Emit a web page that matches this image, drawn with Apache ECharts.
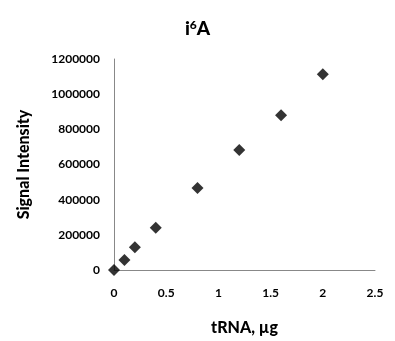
<!DOCTYPE html>
<html>
<head>
<meta charset="utf-8">
<script src="https://cdn.jsdelivr.net/npm/echarts@6/dist/echarts.min.js"></script>
<style>
  html, body { margin: 0; padding: 0; background: #fff; }
  #chart { width: 395px; height: 341px; }
</style>
</head>
<body>
<div id="chart"></div>
<script>
// tRNA amount (µg) vs signal intensity
const tRNA = [0, 0.1, 0.2, 0.4, 0.8, 1.2, 1.6, 2.0]
const signal = [0, 57000, 130000, 240000, 466000, 682000, 880000, 1113000]

const font = 'Lato, "Open Sans", sans-serif'

const chart = echarts.init(document.getElementById('chart'))

chart.setOption({
  animation: false,
  title: {
    text: 'i{sup|6}A',
    left: 'center',
    top: 14,
    textStyle: {
      fontFamily: font,
      fontSize: 19,
      fontWeight: 900,
      color: '#000',
      rich: {
        sup: { fontFamily: font, fontSize: 12, fontWeight: 900, verticalAlign: 'top', padding: [0, 0, 8, 0] },
      },
    },
  },
  grid: {
    left: 114,
    right: 20,
    top: 59,
    bottom: 71,
  },
  xAxis: {
    type: 'value',
    min: 0,
    max: 2.5,
    interval: 0.5,
    name: 'tRNA, µg',
    nameLocation: 'middle',
    nameGap: 50,
    nameTextStyle: { fontFamily: font, fontSize: 16, fontWeight: 900, color: '#000' },
    axisLine: { show: true, lineStyle: { color: '#888', width: 1 } },
    axisTick: { show: false },
    splitLine: { show: false },
    axisLabel: { fontFamily: font, fontSize: 12, fontWeight: 'bold', color: '#000', margin: 17 },
  },
  yAxis: {
    type: 'value',
    min: 0,
    max: 1200000,
    interval: 200000,
    name: 'Signal Intensity',
    nameLocation: 'middle',
    nameGap: 82,
    nameTextStyle: { fontFamily: font, fontSize: 16, fontWeight: 900, color: '#000' },
    axisLine: { show: true, lineStyle: { color: '#888', width: 1 } },
    axisTick: { show: false },
    splitLine: { show: false },
    axisLabel: {
      fontFamily: font,
      fontSize: 12,
      fontWeight: 'bold',
      color: '#000',
      margin: 14,
      formatter: (v) => String(v),
    },
  },
  series: [
    {
      type: 'scatter',
      symbol: 'diamond',
      symbolSize: 12,
      itemStyle: { color: '#000' },
      data: tRNA.map((x, i) => [x, signal[i]]),
    },
  ],
})
</script>
</body>
</html>
